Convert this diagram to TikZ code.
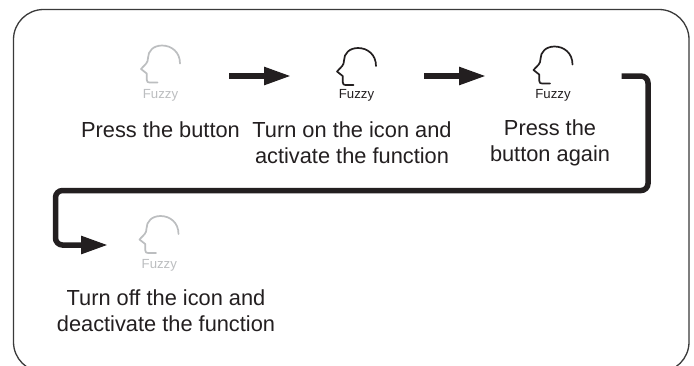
\documentclass[tikz,border=0pt]{standalone}
\usepackage{fontspec}
\setmainfont{Liberation Sans}
\usetikzlibrary{arrows.meta}
\definecolor{ink}{HTML}{231F20}
\definecolor{dim}{HTML}{BCBEC0}
\definecolor{framec}{HTML}{3A3A3A}
\tikzset{
  caption/.style={align=center,text=ink,font=\fontsize{21.8}{26.3}\selectfont,inner sep=0pt},
  fuzzylabel/.style={font=\fontsize{13.2}{14}\selectfont,inner sep=0pt},
  headline/.style={line width=1.7pt,line cap=round,line join=round,fill=none},
  flow/.style={draw=ink,line width=5.5pt,rounded corners=7pt,
    -{Triangle[length=27pt,width=17pt,fill=ink]}},
  pics/head/.style={code={
    \draw[headline,draw=#1] (19.5,-6.5) .. controls (19.5,-18) and (11,-24.5) .. (1.5,-24.5)
      .. controls (-7,-24.5) and (-12.5,-19) .. (-12.5,-12)
      .. controls (-12.5,-7) and (-15,-6) .. (-19.5,-1)
      -- (-13.8,3.5) -- (-13.8,9.5)
      .. controls (-13.8,12) and (-12.5,12.5) .. (-11,12.5) -- (-3,12.5);
  }}
}
\begin{document}
\begin{tikzpicture}[x=1pt,y=-1pt]
\useasboundingbox (0,0) rectangle (694,365);
\clip (0,0) rectangle (694,365);
\fill[white] (0,0) rectangle (694,365);
\draw[framec,line width=1.3pt,rounded corners=30pt] (13.5,9.5) rectangle (689,372);

\pic at (160.5,70) {head=dim};
\pic at (356.5,72.5) {head=ink};
\pic at (553,71) {head=ink};
\pic at (159,240.5) {head=dim};

\node[fuzzylabel,text=dim] (f1) at (160.5,95) {Fuzzy};
\node[fuzzylabel,text=ink] (f2) at (356.5,95) {Fuzzy};
\node[fuzzylabel,text=ink] (f3) at (553,95) {Fuzzy};
\node[fuzzylabel,text=dim] (f4) at (159.3,265) {Fuzzy};

\node[caption] (c1) at (160.5,129.5) {Press the button};
\node[caption] (c2) at (352,142.5) {Turn on the icon and\\activate the function};
\node[caption] (c3) at (550,142.8) {Press the\\button again};
\node[caption] (c4) at (166,310.5) {Turn off the icon and\\deactivate the function};

\coordinate (a1s) at (229,76); \coordinate (a1e) at (291,76);
\coordinate (a2s) at (424,76); \coordinate (a2e) at (486,76);
\coordinate (a3s) at (621.5,76); \coordinate (a3e) at (108,245);
\draw[flow] (a1s) -- (a1e);
\draw[flow] (a2s) -- (a2e);
\draw[flow] (a3s) -- (648,76) -- (648,190.5) -- (55.5,190.5) -- (55.5,245) -- (a3e);
\end{tikzpicture}
\end{document}
